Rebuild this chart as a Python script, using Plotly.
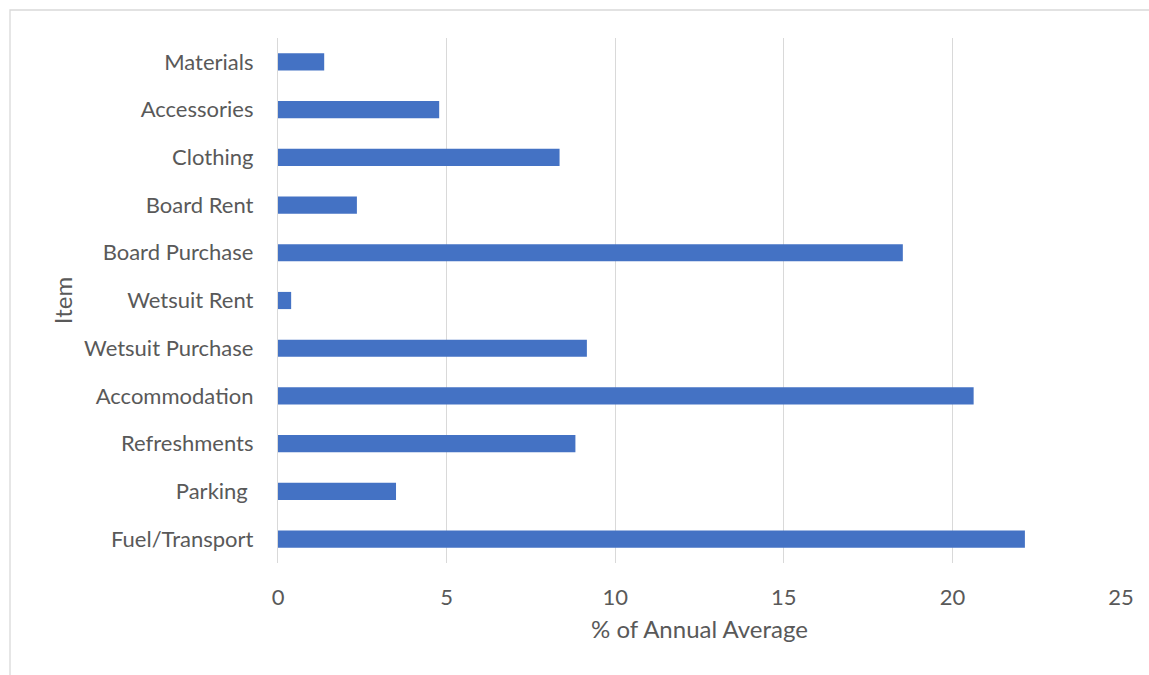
import plotly.graph_objects as go

items = ["Fuel/Transport", "Parking ", "Refreshments", "Accommodation", "Wetsuit Purchase",
         "Wetsuit Rent", "Board Purchase", "Board Rent", "Clothing", "Accessories", "Materials"]
values = [22.15, 3.5, 8.82, 20.63, 9.16, 0.39, 18.53, 2.34, 8.35, 4.78, 1.37]
x_ticks = [0, 5, 10, 15, 20, 25]

W, H = 1149, 675
L, R, T, B = 278, 1121, 38, 563

fig = go.Figure(go.Bar(
    y=items, x=values, orientation="h",
    marker=dict(color="#4472C4", line=dict(width=0)),
    width=0.36,
))

font = "Lato, Calibri, Carlito, sans-serif"
fig.update_layout(
    width=W, height=H,
    margin=dict(l=L, r=W - R, t=T, b=H - B, pad=0),
    paper_bgcolor="white", plot_bgcolor="white",
    showlegend=False,
    font=dict(family=font, color="#595959", size=22),
    xaxis=dict(
        range=[0, 25], tickvals=x_ticks, ticktext=[str(v) for v in x_ticks],
        showgrid=True, gridcolor="#D9D9D9", gridwidth=1.3, zeroline=False,
        showline=False, ticks="", ticklabelstandoff=19,
        title=dict(text="% of Annual Average", font=dict(size=24), standoff=12),
    ),
    yaxis=dict(
        categoryorder="array", categoryarray=items,
        showgrid=False, zeroline=False, showline=True, linecolor="#D9D9D9", linewidth=1.3,
        ticks="", ticklabelstandoff=19,
        title=dict(text="Item", font=dict(size=24), standoff=4),
    ),
)

fig.add_shape(type="rect", xref="paper", yref="paper",
              x0=(10 - L) / (R - L), x1=(1160 - L) / (R - L),
              y0=(B - 690) / (B - T), y1=(B - 10) / (B - T),
              line=dict(color="#D9D9D9", width=1.3), fillcolor="rgba(0,0,0,0)", layer="below")

fig.write_html("out.html")
